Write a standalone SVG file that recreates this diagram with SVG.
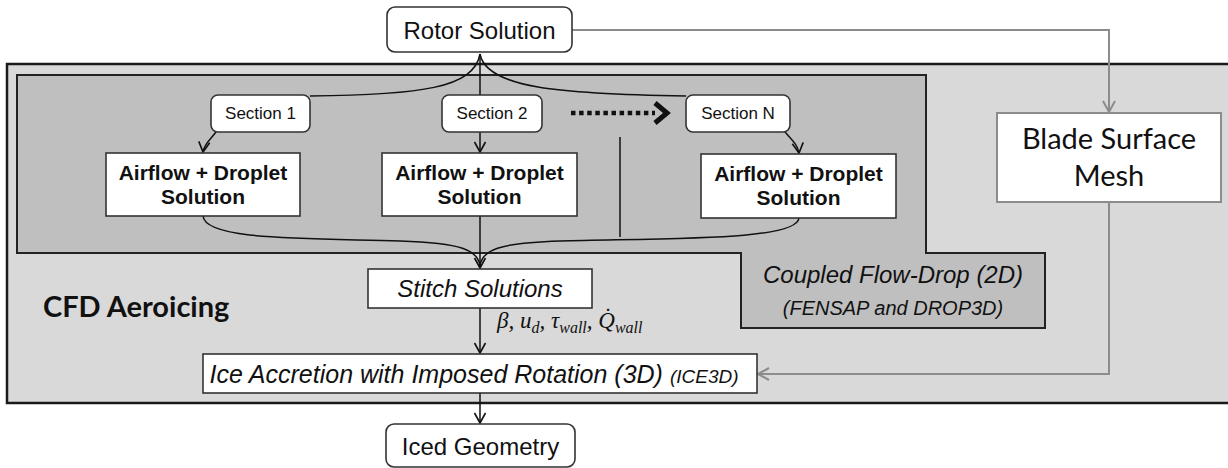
<svg xmlns="http://www.w3.org/2000/svg" width="1228" height="468" viewBox="0 0 1228 468">
<style>
.node{fill:#fff;stroke:#333;stroke-width:1.6}
.gnode{fill:#fff;stroke:#8c8c8c;stroke-width:2}
.t{font-family:"Liberation Sans",Arial,sans-serif;fill:#111;text-anchor:middle}
.b{font-weight:bold}
.i{font-style:italic}
.cal{font-family:Lato,"Open Sans",sans-serif;fill:#111;text-anchor:middle}
.math{font-family:"Liberation Serif","DejaVu Serif",serif;font-style:italic;font-size:23px;fill:#111}
.sub{font-size:16px}
.c{fill:none;stroke:#111;stroke-width:1.5}
.g{fill:none;stroke:#8c8c8c;stroke-width:2}
</style>
<defs>
<marker id="ah" markerUnits="userSpaceOnUse" markerWidth="16" markerHeight="16" refX="13" refY="8" orient="auto">
<path d="M3,2.5 L13,8 L3,13.5" fill="none" stroke="#111" stroke-width="1.6"/>
</marker>
<marker id="ahg" markerUnits="userSpaceOnUse" markerWidth="18" markerHeight="18" refX="15" refY="9" orient="auto">
<path d="M4,3 L15,9 L4,15" fill="none" stroke="#8c8c8c" stroke-width="2"/>
</marker>
</defs>

<g id="cfd-aeroicing">
<rect x="7" y="64" width="1230" height="339" fill="#d9d9d9" stroke="#1a1a1a" stroke-width="2.5"/>
<text class="cal b" x="43" y="317" font-size="29" style="text-anchor:start">CFD Aeroicing</text>
</g>

<g id="coupled-flow-drop">
<polygon points="17,75 926,75 926,253 1045,253 1045,328 741,328 741,253 17,253" fill="#bfbfbf" stroke="#222" stroke-width="2"/>
<text class="t i" x="893" y="283" font-size="24">Coupled Flow-Drop (2D)</text>
<text class="t i" x="893" y="315" font-size="20">(FENSAP and DROP3D)</text>
</g>

<g id="connectors">
<path class="g" d="M572,30 H1109 V112" marker-end="url(#ahg)"/>
<path class="g" d="M1109,202 V374 H758" marker-end="url(#ahg)"/>
<path class="c" d="M480,54 C474,88 420,95 310,96"/>
<path class="c" d="M480,54 C486,88 560,94 686,96"/>
<path class="c" d="M480,54 V95"/>
<path class="c" d="M216,132 C210,140 204,144 203,152" marker-end="url(#ah)"/>
<path class="c" d="M480,132 V152" marker-end="url(#ah)"/>
<path class="c" d="M785,132 C792,140 798,145 799,153" marker-end="url(#ah)"/>
<path class="c" d="M203,216 C205,240 300,238 400,241 C462,243 478,250 480,266"/>
<path class="c" d="M799,218 C797,240 680,238 560,241 C498,243 482,250 480,266"/>
<path class="c" d="M480,216 V268" marker-end="url(#ah)"/>
<path class="c" d="M480,308 V353" marker-end="url(#ah)"/>
<path class="c" d="M480,393 V423" marker-end="url(#ah)"/>
<path d="M571,113 H655" fill="none" stroke="#111" stroke-width="4.5" stroke-dasharray="4.5 3.6"/>
<path d="M655,103 L667,113 L655,123" fill="none" stroke="#111" stroke-width="5" stroke-linejoin="miter"/>
<path class="c" d="M620,137 V237"/>
<text class="math" x="497" y="328">β, u<tspan class="sub" dy="5">d</tspan><tspan dy="-5">, τ</tspan><tspan class="sub" dy="5">wall</tspan><tspan dy="-5">, Q̇</tspan><tspan class="sub" dy="5">wall</tspan></text>
</g>

<g id="rotor-solution">
<rect class="node" x="387" y="7" width="185" height="45" rx="8"/>
<text class="t" x="479.5" y="39" font-size="24">Rotor Solution</text>
</g>

<g id="section-1">
<rect class="node" x="211" y="95" width="99" height="37" rx="7"/>
<text class="t" x="260.5" y="119" font-size="17">Section 1</text>
</g>
<g id="section-2">
<rect class="node" x="442" y="95" width="100" height="37" rx="7"/>
<text class="t" x="492" y="119" font-size="17">Section 2</text>
</g>
<g id="section-n">
<rect class="node" x="686" y="95" width="104" height="37" rx="7"/>
<text class="t" x="738" y="119" font-size="17">Section N</text>
</g>

<g id="airflow-1">
<rect class="node" x="106" y="153" width="194" height="63"/>
<text class="t b" x="203" y="180" font-size="21">Airflow + Droplet</text>
<text class="t b" x="203" y="204" font-size="21">Solution</text>
</g>
<g id="airflow-2">
<rect class="node" x="382" y="153" width="195" height="63"/>
<text class="t b" x="479.5" y="180" font-size="21">Airflow + Droplet</text>
<text class="t b" x="479.5" y="204" font-size="21">Solution</text>
</g>
<g id="airflow-n">
<rect class="node" x="701" y="154" width="195" height="64"/>
<text class="t b" x="798.5" y="181" font-size="21">Airflow + Droplet</text>
<text class="t b" x="798.5" y="205" font-size="21">Solution</text>
</g>

<g id="blade-surface-mesh">
<rect class="gnode" x="997" y="113" width="224" height="89"/>
<text class="cal" x="1109" y="149" font-size="29">Blade Surface</text>
<text class="cal" x="1109" y="186" font-size="29">Mesh</text>
</g>

<g id="stitch-solutions">
<rect class="node" x="368" y="269" width="224" height="39"/>
<text class="t i" x="480" y="297" font-size="24">Stitch Solutions</text>
</g>

<g id="ice-accretion">
<rect class="node" x="203" y="354" width="554" height="39"/>
<text class="t i" x="474" y="383" font-size="25">Ice Accretion with Imposed Rotation (3D) <tspan font-size="19">(ICE3D)</tspan></text>
</g>

<g id="iced-geometry">
<rect class="node" x="386" y="424" width="189" height="43" rx="8"/>
<text class="t" x="480.5" y="455" font-size="24">Iced Geometry</text>
</g>
</svg>
